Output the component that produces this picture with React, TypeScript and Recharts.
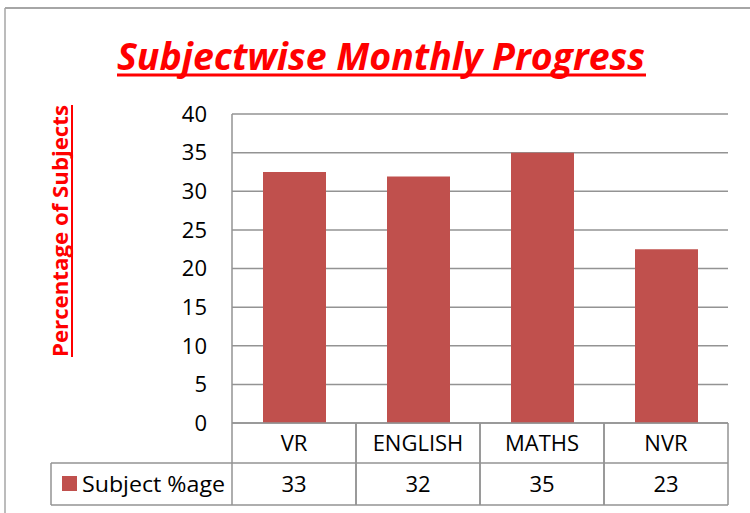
import { BarChart, Bar, XAxis, YAxis, CartesianGrid } from "recharts"

const categories = ["VR", "ENGLISH", "MATHS", "NVR"]
const subjectPct = [32.5, 31.9, 35, 22.5]
const tableValues = ["33", "32", "35", "23"]
const yTicks = [0, 5, 10, 15, 20, 25, 30, 35, 40]
const seriesName = "Subject %age"

const data = categories.map((name, i) => ({ name, value: subjectPct[i], label: tableValues[i] }))

const W = 750
const H = 513
const PLOT_LEFT = 232
const PLOT_RIGHT = 728
const FONT = "'Open Sans', sans-serif"
const GRID = "#939393"
const BAR = "#C0504D"
const ROW = 40
const TABLE_H = 82

const band = (PLOT_RIGHT - PLOT_LEFT) / categories.length

function TableTick(props: any) {
  const { x, y, payload, index } = props
  const l = x - band / 2
  const r = x + band / 2
  return (
    <g>
      <line x1={l} y1={y} x2={l} y2={y + TABLE_H} stroke={GRID} strokeWidth={1.5} />
      <line x1={r} y1={y} x2={r} y2={y + TABLE_H} stroke={GRID} strokeWidth={1.5} />
      <line x1={l} y1={y + ROW} x2={r} y2={y + ROW} stroke={GRID} strokeWidth={1.5} />
      <line x1={l} y1={y + TABLE_H} x2={r} y2={y + TABLE_H} stroke={GRID} strokeWidth={1.5} />
      <text x={x} y={y + ROW / 2} dy="0.36em" textAnchor="middle" fontSize={22} fontFamily={FONT} fill="#000">
        {payload.value}
      </text>
      <text x={x} y={y + ROW + (TABLE_H - ROW) / 2} dy="0.36em" textAnchor="middle" fontSize={22} fontFamily={FONT} fill="#000">
        {data[index].label}
      </text>
      {index === 0 && (
        <g>
          <line x1={51} y1={y + ROW} x2={l} y2={y + ROW} stroke={GRID} strokeWidth={1.5} />
          <line x1={51} y1={y + TABLE_H} x2={l} y2={y + TABLE_H} stroke={GRID} strokeWidth={1.5} />
          <line x1={51} y1={y + ROW} x2={51} y2={y + TABLE_H} stroke={GRID} strokeWidth={1.5} />
          <rect x={62} y={y + ROW + 13} width={15} height={15} fill={BAR} />
          <text x={82} y={y + ROW + (TABLE_H - ROW) / 2} dy="0.36em" fontSize={22} fontFamily={FONT} fill="#000" textLength={143} lengthAdjust="spacingAndGlyphs">
            {seriesName}
          </text>
        </g>
      )}
    </g>
  )
}

export default function App() {
  return (
    <div style={{ position: "absolute", left: 0, top: 0, width: W, height: H, background: "#fff" }}>
      <BarChart
        width={W}
        height={H}
        data={data}
        margin={{ top: 114, right: W - PLOT_RIGHT, left: PLOT_LEFT - 60, bottom: H - 423 - TABLE_H }}
      >
        <CartesianGrid vertical={false} stroke={GRID} strokeWidth={1.5} strokeDasharray="" />
        <XAxis
          dataKey="name"
          height={TABLE_H}
          axisLine={{ stroke: GRID, strokeWidth: 1.5 }}
          tickLine={false}
          tickSize={0}
          tickMargin={0}
          tick={<TableTick />}
          interval={0}
        />
        <YAxis
          width={60}
          domain={[0, 40]}
          ticks={yTicks}
          interval={0}
          axisLine={{ stroke: GRID, strokeWidth: 1.5 }}
          tickLine={false}
          tickSize={0}
          tickMargin={25}
          tick={{ fill: "#000", fontSize: 22, fontFamily: FONT }}
        />
        <Bar dataKey="value" fill={BAR} barSize={63} isAnimationActive={false} />
      </BarChart>
      <svg width={W} height={H} style={{ position: "absolute", left: 0, top: 0, pointerEvents: "none" }}>
        <line x1={5} y1={8} x2={W} y2={8} stroke="#a6a6a6" strokeWidth={2} />
        <line x1={5} y1={8} x2={5} y2={H} stroke="#a6a6a6" strokeWidth={1.5} />
        <text
          x={117}
          y={70}
          fontSize={38}
          fontWeight="bold"
          fontStyle="italic"
          fontFamily={FONT}
          fill="#ff0000"
          textLength={528}
          lengthAdjust="spacingAndGlyphs"
        >
          Subjectwise Monthly Progress
        </text>
        <line x1={117} y1={75} x2={646} y2={75} stroke="#ff0000" strokeWidth={3} />
        <text
          transform="translate(68,357) rotate(-90)"
          x={0}
          y={0}
          fontSize={22}
          fontWeight="bold"
          fontFamily={FONT}
          fill="#ff0000"
          textLength={252}
          lengthAdjust="spacingAndGlyphs"
        >
          Percentage of Subjects
        </text>
        <line x1={72} y1={105} x2={72} y2={357} stroke="#ff0000" strokeWidth={2} />
      </svg>
    </div>
  )
}
